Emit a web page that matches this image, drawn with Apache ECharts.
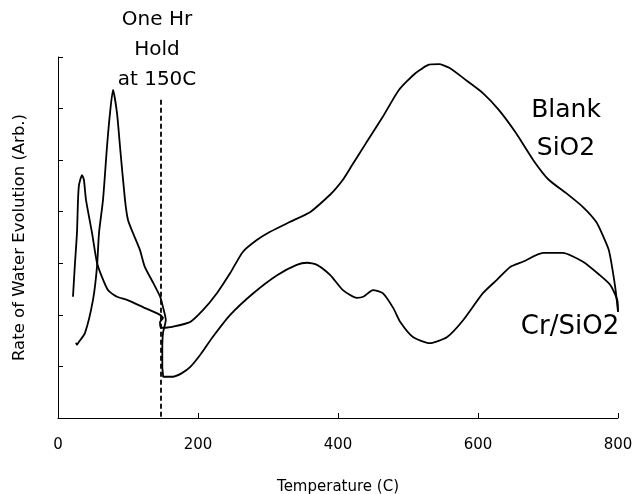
<!DOCTYPE html>
<html>
<head>
<meta charset="utf-8">
<script src="https://cdn.jsdelivr.net/npm/echarts@6/dist/echarts.min.js"></script>
<style>html,body{margin:0;padding:0;background:#fff}#c{width:636px;height:494px}</style>
</head>
<body>
<div id="c"></div>
<script>
// Temperature (C) vs rate of water evolution (arbitrary units)
var blankSiO2 = [
  [21.4,2.35],[24.3,3.01],[27.1,3.59],[28.6,4.23],[30,4.52],[34.3,4.71],[37,4.62],[40,4.23],
  [48.6,3.59],[55.7,3.01],[62.9,2.73],[71.4,2.48],[84.3,2.35],[98.6,2.29],[121.4,2.15],
  [145.7,2.0],[150,1.94],[145.7,1.86],[147,1.75],[152.9,1.75],[160,1.76],[188.6,1.86],
  [207,2.09],[227,2.42],[246,2.81],[264,3.22],[284,3.45],[303,3.61],[331,3.80],[360,3.99],
  [384,4.27],[395,4.42],[407,4.62],[420,4.90],[440,5.33],[464,5.84],[487,6.36],[511,6.69],[530,6.85],
  [544,6.86],[559,6.79],[583,6.55],[607,6.30],[630,5.97],[654,5.53],[679,5.0],[701,4.62],
  [726,4.36],[750,4.09],[769,3.80],[778,3.55],[787,3.25],[796,2.54],[800,2.06]
];
var crSiO2 = [
  [25.7,1.46],[27,1.42],[28.6,1.45],[38.6,1.65],[50,2.29],[55.7,2.93],[58.6,3.59],[64.3,4.23],
  [70,5.26],[74.3,5.91],[78.6,6.36],[84.3,5.91],[88.6,5.26],[95.7,4.23],[100,3.84],[107,3.59],
  [117,3.26],[124,2.93],[136,2.62],[146,2.35],[150,2.15],[154,1.90],[150,1.65],[149,1.32],
  [149,0.99],[150,0.83],[150,0.80],[164,0.80],[177,0.87],[189,0.99],[203,1.22],[221,1.57],
  [246,2.00],[279,2.42],[313,2.77],[341,2.97],[356,3.01],[370,2.97],[389,2.77],[407,2.48],
  [427,2.33],[436,2.35],[450,2.48],[464,2.42],[479,2.13],[489,1.86],[507,1.57],[531,1.45],
  [556,1.57],[579,1.90],[607,2.42],[627,2.68],[646,2.93],[664,3.03],[693,3.20],[721,3.20],
  [750,3.03],[774,2.77],[789,2.58],[799,2.29],[800,2.06]
];
var holdTemp = 147;
var holdTop = 6.17;
var xTicks = [0, 200, 400, 600, 800];

var FONT = 'DejaVu Sans';
var chart = echarts.init(document.getElementById('c'), null, {renderer: 'canvas'});
chart.setOption({
  animation: false,
  backgroundColor: '#fff',
  grid: {left: 58, right: 18, top: 57, bottom: 76, containLabel: false, outerBoundsMode: 'none'},
  xAxis: {
    type: 'value', min: xTicks[0], max: xTicks[xTicks.length - 1], interval: 200,
    name: 'Temperature (C)', nameLocation: 'middle', nameGap: 62,
    nameTextStyle: {fontFamily: FONT, fontSize: 15, color: '#000'},
    axisLine: {lineStyle: {color: '#000', width: 1}},
    axisTick: {inside: true, length: 5, lineStyle: {color: '#000'}},
    axisLabel: {fontFamily: FONT, fontSize: 15, color: '#000', margin: 20},
    splitLine: {show: false}
  },
  yAxis: {
    type: 'value', min: 0, max: 7, interval: 1,
    name: 'Rate of Water Evolution (Arb.)', nameLocation: 'middle', nameGap: 30, nameRotate: 90,
    nameTextStyle: {fontFamily: FONT, fontSize: 16.5, color: '#000'},
    axisLine: {show: true, lineStyle: {color: '#000', width: 1}},
    axisTick: {show: true, inside: true, length: 5, lineStyle: {color: '#000'}},
    axisLabel: {show: false},
    splitLine: {show: false}
  },
  series: [
    {
      name: 'Blank SiO2', type: 'line', data: blankSiO2, showSymbol: false, symbol: 'none',
      lineStyle: {color: '#000', width: 1.8}, smooth: 0.2,
      markLine: {
        silent: true, symbol: 'none', label: {show: false},
        lineStyle: {color: '#000', width: 1.8, type: [5, 3]},
        data: [[{coord: [holdTemp, holdTop]}, {coord: [holdTemp, 0]}]]
      }
    },
    {
      name: 'Cr/SiO2', type: 'line', data: crSiO2, showSymbol: false, symbol: 'none',
      lineStyle: {color: '#000', width: 1.8}, smooth: 0.2
    }
  ],
  graphic: [
    {type: 'text', style: {text: 'One Hr', x: 157, y: 20, fontFamily: FONT, fontSize: 20, fill: '#000', textAlign: 'center', textVerticalAlign: 'middle'}},
    {type: 'text', style: {text: 'Hold', x: 157, y: 50, fontFamily: FONT, fontSize: 20, fill: '#000', textAlign: 'center', textVerticalAlign: 'middle'}},
    {type: 'text', style: {text: 'at 150C', x: 157, y: 80, fontFamily: FONT, fontSize: 20, fill: '#000', textAlign: 'center', textVerticalAlign: 'middle'}},
    {type: 'text', style: {text: 'Blank', x: 566, y: 110, fontFamily: FONT, fontSize: 25, fill: '#000', textAlign: 'center', textVerticalAlign: 'middle'}},
    {type: 'text', style: {text: 'SiO2', x: 566, y: 148, fontFamily: FONT, fontSize: 25, fill: '#000', textAlign: 'center', textVerticalAlign: 'middle'}},
    {type: 'text', style: {text: 'Cr/SiO2', x: 570, y: 327, fontFamily: FONT, fontSize: 26, fill: '#000', textAlign: 'center', textVerticalAlign: 'middle'}}
  ]
});
</script>
</body>
</html>
